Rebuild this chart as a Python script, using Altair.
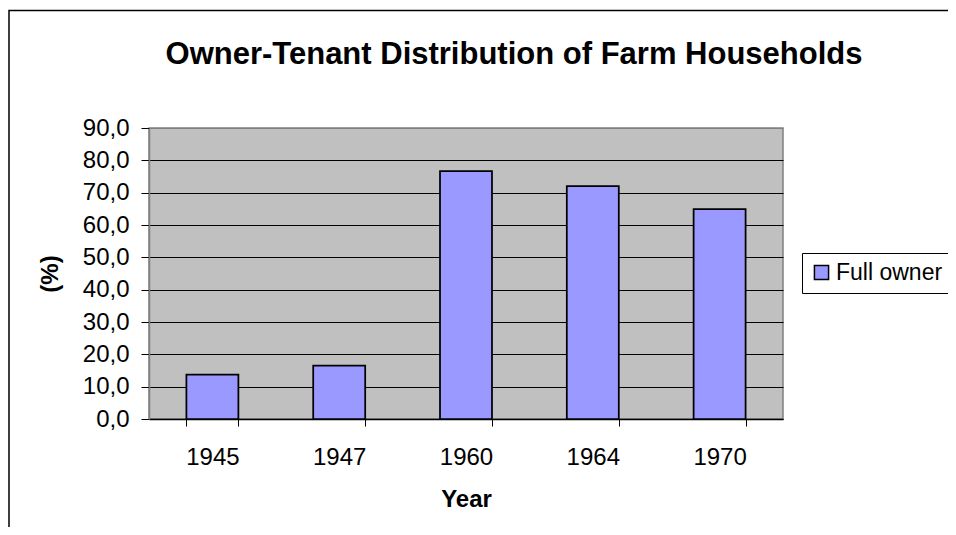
import altair as alt
import pandas as pd

# ---- data ----
years = ["1945", "1947", "1960", "1964", "1970"]
full_owner = [13.7, 16.5, 76.7, 72.0, 64.9]
series_name = "Full owner"
y_ticks = [0, 10, 20, 30, 40, 50, 60, 70, 80, 90]

df = pd.DataFrame({
    "Year": years,
    "Share": full_owner,
    "Series": [series_name] * len(years),
})

FONT = "Arial, Liberation Sans, sans-serif"

# decorative chart-area frame (top and left edges visible, rest runs off the page)
frame = alt.Chart(pd.DataFrame({"k": [0]})).mark_rect(
    fillOpacity=0, stroke="black", strokeWidth=1.5
).encode(
    x=alt.value(-140), x2=alt.value(1400),
    y=alt.value(-117.5), y2=alt.value(900),
)

bars = alt.Chart(df).mark_bar(stroke="black", strokeWidth=1.75).encode(
    x=alt.X(
        "Year:N",
        sort=years,
        scale=alt.Scale(paddingInner=0.59, paddingOuter=0.295),
        axis=alt.Axis(
            title="Year",
            labelAngle=0,
            tickBand="extent",
            ticks=True,
            tickSize=7,
            tickColor="black",
            domainColor="black",
            domainWidth=1.5,
            labelPadding=19,
            titlePadding=18,
            grid=False,
            labelFont=FONT,
            titleFont=FONT,
            labelFontSize=24,
            titleFontSize=24,
            labelColor="black",
            titleColor="black",
            titleFontWeight="bold",
        ),
    ),
    y=alt.Y(
        "Share:Q",
        scale=alt.Scale(domain=[0, 90], nice=False),
        axis=alt.Axis(
            title="(%)",
            values=y_ticks,
            labelExpr="replace(format(datum.value, '.1f'), '.', ',')",
            tickSize=8,
            tickColor="black",
            domainColor="#808080",
            domainWidth=1.5,
            labelPadding=12,
            titlePadding=20,
            grid=True,
            gridColor={
                "condition": {"test": "datum.value === 90", "value": "#808080"},
                "value": "black",
            },
            gridWidth=1,
            labelFont=FONT,
            titleFont=FONT,
            labelFontSize=24,
            titleFontSize=24,
            labelColor="black",
            titleColor="black",
            titleFontWeight="bold",
        ),
    ),
    color=alt.Color(
        "Series:N",
        scale=alt.Scale(range=["#9999FF"]),
        legend=alt.Legend(
            title=None,
            orient="none",
            legendX=653,
            legendY=125,
            strokeColor="black",
            fillColor="white",
            padding=8,
            symbolType="square",
            symbolSize=200,
            symbolStrokeColor="black",
            symbolStrokeWidth=1.5,
            labelFontSize=23,
            labelOffset=3,
            labelColor="black",
            labelFont=FONT,
            cornerRadius=0,
        ),
    ),
)

chart = alt.layer(frame, bars).properties(
    width=634,
    height=291,
    autosize=alt.AutoSizeParams(type="none"),
    padding={"left": 141, "top": 120, "right": 165, "bottom": 108},
    title=alt.TitleParams(
        "Owner-Tenant Distribution of Farm Households",
        fontSize=31,
        fontWeight="bold",
        font=FONT,
        color="black",
        anchor="middle",
        frame="group",
        baseline="alphabetic",
        dx=48,
        dy=14,
        offset=-71,
    ),
).configure_view(
    fill="#C0C0C0", stroke="#808080", strokeWidth=1.5
)

chart.save("out.html", embed_options={"renderer": "svg", "actions": False})
